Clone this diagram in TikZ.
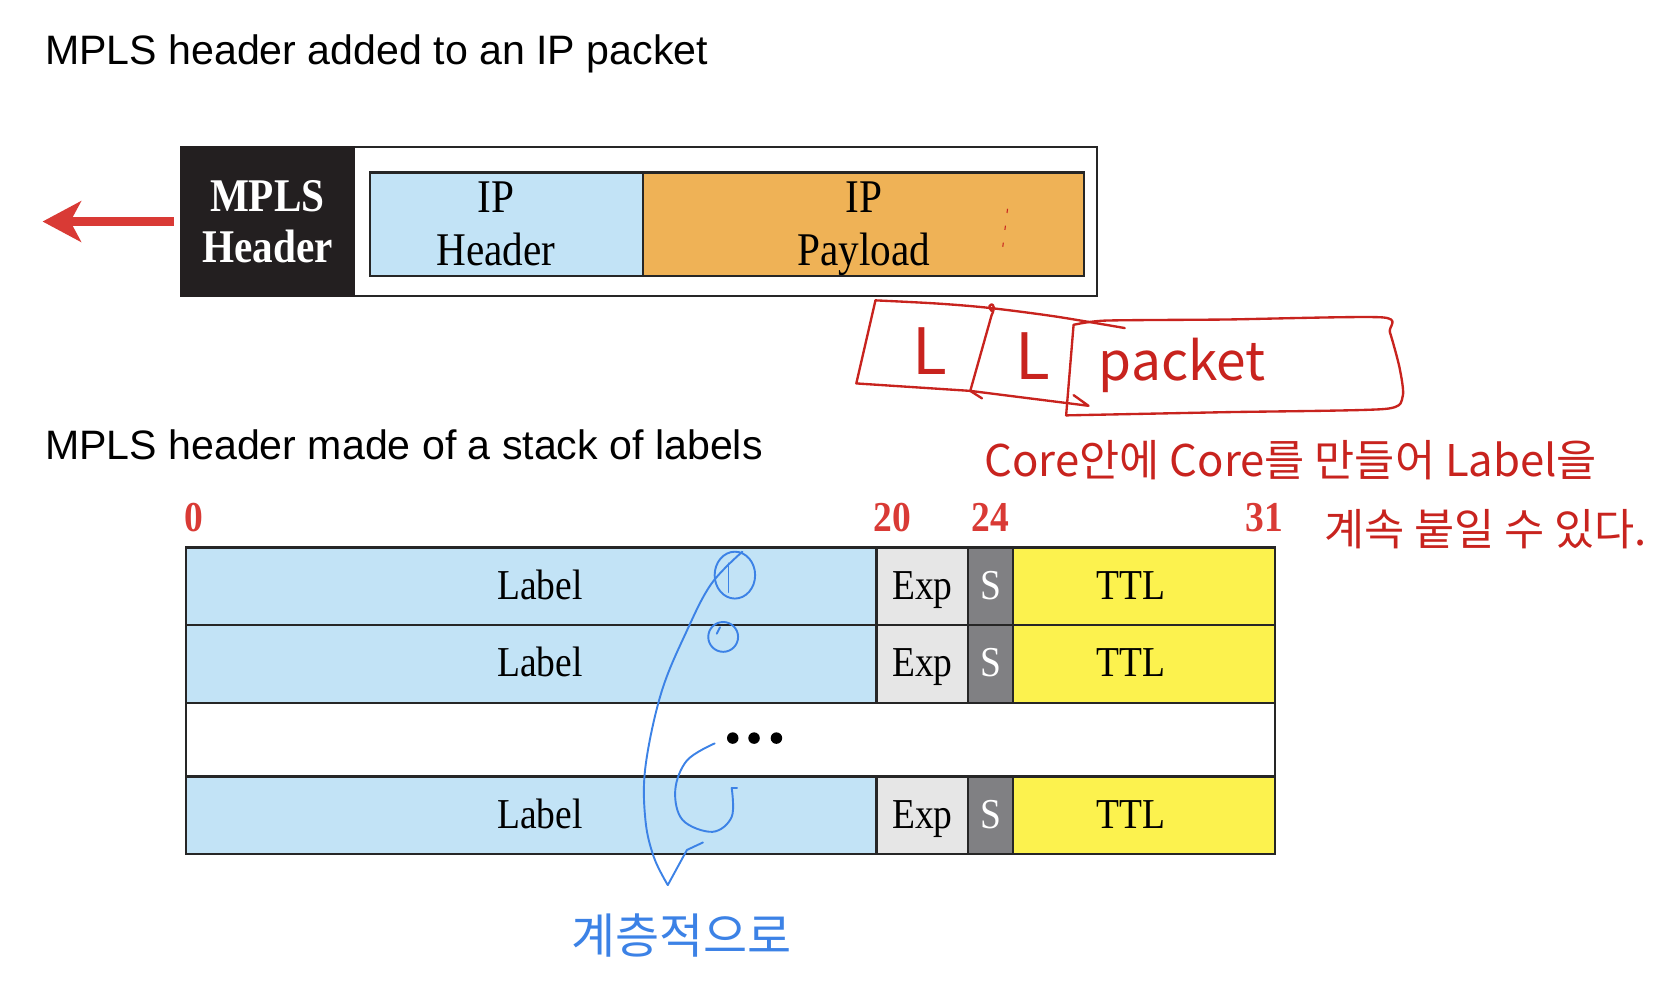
\documentclass[tikz,border=0pt]{standalone}
\usepackage{fontspec}
\setmainfont{Liberation Serif}
\newfontfamily\titlefont{Liberation Sans}
\newfontfamily\fieldfont[FakeStretch=0.88]{Liberation Serif}
\newfontfamily\handfont{Noto Sans CJK KR}
\definecolor{ipblue}{HTML}{C2E3F6}
\definecolor{payorange}{HTML}{EFB256}
\definecolor{expgray}{HTML}{E6E6E6}
\definecolor{sgray}{HTML}{808083}
\definecolor{ttlyellow}{HTML}{FCF24E}
\definecolor{mplsblack}{HTML}{231F20}
\definecolor{markred}{HTML}{D93A35}
\definecolor{inkred}{HTML}{C8231E}
\definecolor{inkblue}{HTML}{3C82E6}
\usetikzlibrary{arrows.meta,positioning}

\begin{document}
\begin{tikzpicture}[x=0.5pt,y=-0.5pt,
  heading/.style={anchor=base west,inner sep=0pt,font=\titlefont\fontsize{19.3}{23}\selectfont},
  cell/.style={draw=black!85,line width=1pt,inner sep=0pt,outer sep=0pt,minimum height=36.5pt,
    text height=16pt,text depth=4pt,font=\fieldfont\fontsize{20}{24}\selectfont},
  lblcell/.style={cell,fill=ipblue,minimum width=324pt},
  expcell/.style={cell,fill=expgray,minimum width=43pt},
  scell/.style={cell,fill=sgray,text=white,minimum width=21pt},
  ttlcell/.style={cell,fill=ttlyellow,minimum width=123pt},
  bitno/.style={anchor=base,inner sep=0pt,text=markred,font=\fieldfont\bfseries\fontsize{20}{24}\selectfont},
  pktpart/.style={draw=black!85,line width=1pt,inner sep=0pt,outer sep=0pt,minimum height=48.5pt,
    align=center,font=\fieldfont\fontsize{22}{25}\selectfont},
  pusharrow/.style={-{Stealth[length=18pt,width=19pt,inset=5pt]},line width=4pt,markred},
  redink/.style={draw=inkred,line width=1.1pt,line cap=round,line join=round},
  blueink/.style={draw=inkblue,line width=0.9pt,line cap=round,line join=round},
  redhand/.style={text=inkred,inner sep=0pt,font=\handfont\fontsize{20.5}{24}\selectfont},
  bluehand/.style={text=inkblue,inner sep=0pt,font=\handfont\fontsize{22.5}{24}\selectfont}]
  \path[use as bounding box,fill=white] (0,0) rectangle (1568,922);

  % packet with MPLS header
  \node[heading] (head1) at (42,61) {MPLS header added to an IP packet};
  \node[draw=black!85,line width=1.2pt,minimum width=430pt,minimum height=70pt,inner sep=0pt,
    outer sep=0pt,anchor=north west] (frame) at (170,138) {};
  \node[fill=mplsblack,draw=mplsblack,line width=1.2pt,minimum width=81pt,minimum height=70pt,
    inner sep=0pt,outer sep=0pt,anchor=north west,text=white,align=center,
    font=\fieldfont\bfseries\fontsize{22}{24}\selectfont] (mpls) at (frame.north west) {MPLS\\Header};
  \node[pktpart,fill=ipblue,minimum width=128.5pt,anchor=west] (iphdr) at (347,210.5)
    {IP\hspace*{10pt}\\Header\hspace*{10pt}};
  \node[pktpart,fill=payorange,minimum width=207pt,right=0pt of iphdr] (payload) {IP\\Pa\smash{y}load};
  \coordinate (pushend) at (40,208);
  \draw[pusharrow,shorten <=3.5pt] (mpls.west) -- (pushend);
  \draw[inkred,line width=0.5pt,dash pattern=on 2pt off 6pt] (946,196) -- (941,236);

  % label stack
  \node[heading] (head2) at (42,431) {MPLS header made of a stack of labels};
  \node[bitno] (b0) at (182,499) {0};
  \node[bitno] (b20) at (838,499) {20};
  \node[bitno] (b24) at (930,499) {24};
  \node[bitno] (b31) at (1187,499) {31};

  \node[lblcell,anchor=north west] (lbl1) at (175,514) {\hspace*{8pt}Label};
  \node[expcell,right=0pt of lbl1] (exp1) {Exp};
  \node[scell,right=0pt of exp1] (s1) {S};
  \node[ttlcell,right=0pt of s1] (ttl1) {TTL\hspace*{12pt}};

  \node[lblcell,below=0pt of lbl1] (lbl2) {\hspace*{8pt}Label};
  \node[expcell,right=0pt of lbl2] (exp2) {Exp};
  \node[scell,right=0pt of exp2] (s2) {S};
  \node[ttlcell,right=0pt of s2] (ttl2) {TTL\hspace*{12pt}};

  \node[cell,minimum width=511pt,minimum height=34.5pt,below=0pt of lbl2.south west,
    anchor=north west] (gap) {};
  \foreach \x in {688,708,729} \fill (\x,693) circle (2.7pt);

  \node[lblcell,below=0pt of gap.south west,anchor=north west] (lbl3) {\hspace*{8pt}Label};
  \node[expcell,right=0pt of lbl3] (exp3) {Exp};
  \node[scell,right=0pt of exp3] (s3) {S};
  \node[ttlcell,right=0pt of s3] (ttl3) {TTL\hspace*{12pt}};

  % red notes
  \draw[redink] plot[smooth,tension=0.5] coordinates {(822,282) (880,285) (928,289) (990,297) (1056,308)};
  \draw[redink] (822,282) -- (804,360) -- (911,367) -- (1022,381) -- (1008,371);
  \draw[redink] (931,292) .. controls (924,284) and (938,282) .. (931,296) -- (911,367) -- (922,374);
  \draw[redink] plot[smooth,tension=0.4] coordinates {(1008,305) (1038,301) (1150,300) (1298,298)
    (1305,312) (1314,345) (1317,372) (1300,384) (1150,387) (1001,390)};
  \draw[redink] (1008,305) -- (1001,390);
  \node[redhand,font=\handfont\fontsize{30}{32}\selectfont] (l2) at (873,330) {L};
  \node[redhand,font=\handfont\fontsize{30}{32}\selectfont] (l1) at (970,334) {L};
  \node[redhand,font=\handfont\fontsize{25}{28}\selectfont] (pkt) at (1110,343) {packet};
  \node[redhand] (note1) at (1212,432) {Core안에 Core를 만들어 Label을};
  \node[redhand] (note2) at (1395,497) {계속 붙일 수 있다.};

  % blue notes
  \draw[blueink] (690,540) ellipse [x radius=9.5pt,y radius=11pt];
  \draw[blueink] (684,529) -- (684,556);
  \draw[blueink] (679,598) circle (7pt);
  \draw[blueink] (676,589) -- (673,595);
  \draw[blueink] plot[smooth,tension=0.6] coordinates {(697,518) (668,548) (645,592) (621,650)
    (606,720) (606,770) (614,805) (627,831)};
  \draw[blueink] (627,831) -- (645,798) -- (660,791);
  \draw[blueink] plot[smooth,tension=0.6] coordinates {(671,698) (645,714) (634,742) (641,770)
    (669,781) (687,767) (687,740)};
  \draw[blueink] (687,740) -- (692,740);
  \node[bluehand] (note3) at (640,878) {계층적으로};
\end{tikzpicture}
\end{document}
